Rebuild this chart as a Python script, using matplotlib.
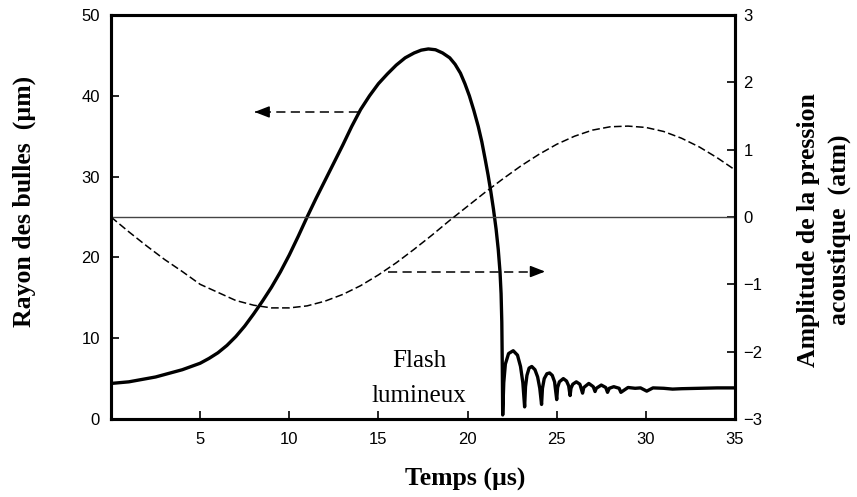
import numpy as np
import matplotlib
matplotlib.use("Agg")
import matplotlib.pyplot as plt

# temps (µs) et rayon de la bulle (µm)
temps_r = [0.0, 0.5, 1.0, 1.5, 2.0, 2.5, 3.0, 3.5, 4.0, 4.5, 5.0, 5.5, 6.0, 6.5,
           7.0, 7.5, 8.0, 8.5, 9.0, 9.5, 10.0, 10.5, 11.0, 11.5, 12.0, 12.5,
           13.0, 13.5, 14.0, 14.5, 15.0, 15.5, 16.0, 16.5, 17.0, 17.4, 17.8,
           18.2, 18.6, 19.0, 19.3, 19.6, 19.85, 20.1, 20.35, 20.6, 20.8, 21.0,
           21.15, 21.3, 21.45, 21.6, 21.72, 21.82, 21.88, 21.92, 21.95, 21.97,
           22.03, 22.12, 22.3, 22.56, 22.8, 22.97, 23.1, 23.2,
           23.25, 23.33, 23.45, 23.6, 23.78, 23.93, 24.05, 24.15,
           24.2, 24.3, 24.45, 24.6, 24.75, 24.88, 25.0,
           25.05, 25.15, 25.37, 25.55, 25.67, 25.75,
           25.8, 25.9, 26.1, 26.3, 26.45,
           26.52, 26.8, 27.05, 27.15,
           27.22, 27.5, 27.75, 27.85,
           27.95, 28.2, 28.5, 28.6,
           29.0, 29.4, 29.7, 30.05, 30.4, 31.0, 31.5, 32.0, 33.0, 34.0, 35.0]
rayon = [4.4, 4.5, 4.6, 4.8, 5.0, 5.2, 5.5, 5.8, 6.1, 6.5, 6.9, 7.5, 8.2, 9.1,
         10.2, 11.5, 13.0, 14.6, 16.3, 18.2, 20.3, 22.6, 25.0, 27.3, 29.5, 31.7,
         33.9, 36.2, 38.3, 40.0, 41.5, 42.7, 43.8, 44.7, 45.3, 45.65, 45.8,
         45.7, 45.3, 44.7, 43.9, 42.8, 41.5, 40.0, 38.2, 36.2, 34.3, 32.0,
         30.2, 28.2, 26.0, 23.5, 21.0, 18.2, 15.5, 12.0, 6.0, 0.5,
         4.5, 6.8, 8.1, 8.45, 7.9, 6.5, 4.5, 1.5,
         4.0, 5.4, 6.3, 6.5, 6.1, 5.2, 3.8, 1.8,
         3.8, 5.0, 5.6, 5.7, 5.4, 4.6, 2.4,
         3.9, 4.6, 5.0, 4.7, 4.1, 2.9,
         3.8, 4.3, 4.6, 4.3, 3.2,
         3.9, 4.4, 4.0, 3.4,
         3.8, 4.2, 3.9, 3.3,
         3.8, 4.0, 3.8, 3.3,
         3.9, 3.8, 3.85, 3.45, 3.85, 3.8, 3.7, 3.75, 3.8, 3.85, 3.85]

# pression acoustique (atm)
temps_p = list(range(0, 36))
pression = [0.0, -0.22, -0.43, -0.63, -0.81, -1.0, -1.12, -1.24, -1.31, -1.35,
            -1.35, -1.32, -1.25, -1.15, -1.02, -0.86, -0.68, -0.48, -0.27, -0.05,
            0.16, 0.37, 0.57, 0.76, 0.93, 1.08, 1.2, 1.29, 1.34, 1.35,
            1.33, 1.27, 1.17, 1.04, 0.88, 0.7]

xticks = [5, 10, 15, 20, 25, 30, 35]
yticks_r = [0, 10, 20, 30, 40, 50]
yticks_p = [-3, -2, -1, 0, 1, 2, 3]

W, H = 857, 497
fig = plt.figure(figsize=(W / 100, H / 100), dpi=100)
ax = fig.add_axes([111 / W, 1 - 419 / H, 624 / W, 404 / H])
ax2 = ax.twinx()

ax.set_xlim(0, 35)
ax.set_ylim(0, 50)
ax2.set_ylim(-3, 3)

ax2.axhline(0, color="#444444", lw=1.0)
ax2.plot(temps_p, pression, color="k", lw=1.1, dashes=(5, 2.2))
ax.plot(temps_r, rayon, color="k", lw=2.4, solid_joinstyle="round")

# fleches
def fleche(a, x0, x1, y):
    a.plot([x0, x1], [y, y], color="k", lw=1.1, dashes=(6, 3.5))
    d = 0.6 if x1 > x0 else -0.6
    a.annotate("", xy=(x1, y), xytext=(x1 - d, y),
                arrowprops=dict(arrowstyle="-|>,head_length=0.9,head_width=0.35",
                                color="k", lw=1.1, shrinkA=0, shrinkB=0))

fleche(ax, 13.85, 8.05, 38.0)
fleche(ax2, 15.55, 24.35, -0.81)

serif = "Liberation Serif"
ax.text(17.27, 6.47, "Flash", ha="center", va="baseline", family=serif, fontsize=18)
ax.text(17.27, 2.1, "lumineux", ha="center", va="baseline", family=serif, fontsize=18)

for a in (ax, ax2):
    for s in a.spines.values():
        s.set_linewidth(2.2)
    a.tick_params(direction="in", length=6, width=1.2, labelsize=12)

ax.set_xticks(xticks)
ax.set_yticks(yticks_r)
ax2.set_yticks(yticks_p)
ax.tick_params(axis="x", pad=9)
ax.tick_params(axis="y", pad=8)
ax2.tick_params(axis="y", pad=6)
for lab in ax.get_xticklabels() + ax.get_yticklabels() + ax2.get_yticklabels():
    lab.set_family("Liberation Sans")

fig.text(24 / W, 1 - 201 / H, "Rayon des bulles  (µm)", rotation=90, ha="center",
         va="center", family=serif, fontweight="bold", fontsize=18.5)
fig.text(824 / W, 1 - 230 / H, "Amplitude de la pression\nacoustique  (atm)",
         rotation=90, ha="center", va="center", multialignment="center",
         linespacing=1.4, family=serif, fontweight="bold", fontsize=18.5)
fig.text(465 / W, 1 - 479 / H, "Temps (µs)", ha="center", va="center",
         family=serif, fontweight="bold", fontsize=18.5)

fig.savefig("out.png", dpi=100)
